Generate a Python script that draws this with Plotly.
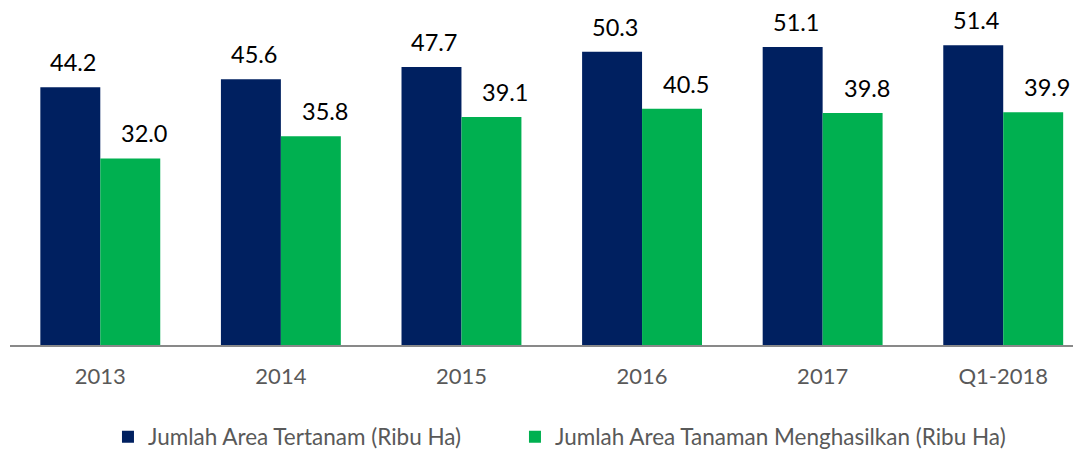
import plotly.graph_objects as go

categories = ["2013", "2014", "2015", "2016", "2017", "Q1-2018"]
planted = [44.2, 45.6, 47.7, 50.3, 51.1, 51.4]
producing = [32.0, 35.8, 39.1, 40.5, 39.8, 39.9]
series_names = ["Jumlah Area Tertanam (Ribu Ha)", "Jumlah Area Tanaman Menghasilkan (Ribu Ha)"]

NAVY = "#002060"
GREEN = "#00B050"
FONT = "Lato"

bargap = 0.336
bar_w = (1 - bargap) / 2

fig = go.Figure()
fig.add_trace(go.Bar(x=categories, y=planted, name=series_names[0], marker_color=NAVY,
                     marker_line_width=0, legend="legend"))
fig.add_trace(go.Bar(x=categories, y=producing, name=series_names[1], marker_color=GREEN,
                     marker_line_width=0, legend="legend2"))

annotations = []
for i, (a, b) in enumerate(zip(planted, producing)):
    annotations.append(dict(x=i - bar_w / 2, y=a, xref="x", yref="y", text=f"{a:.1f}",
                            showarrow=False, yanchor="middle", yshift=25, xshift=3,
                            font=dict(family=FONT, size=23.5, color="#000000")))
    annotations.append(dict(x=i + bar_w / 2, y=b, xref="x", yref="y", text=f"{b:.1f}",
                            showarrow=False, yanchor="middle", yshift=25, xshift=14,
                            font=dict(family=FONT, size=23.5, color="#000000")))

legend_style = dict(orientation="h", y=-0.273, yanchor="middle", xanchor="left",
                    font=dict(family=FONT, size=22.5, color="#595959"), itemwidth=30,
                    bgcolor="rgba(0,0,0,0)")

fig.update_layout(
    width=1081, height=450,
    margin=dict(l=2, r=0, t=0, b=113, autoexpand=False),
    paper_bgcolor="white", plot_bgcolor="white",
    barmode="group", bargap=bargap, bargroupgap=0,
    font=dict(family=FONT, color="#595959"),
    showlegend=True,
    legend=dict(x=0.0908, **legend_style),
    legend2=dict(x=0.468, **legend_style),
    annotations=annotations,
)
fig.update_xaxes(type="category", range=[-0.5, 5.475], showline=True, linecolor="#898989",
                 linewidth=2, ticks="", showgrid=False, zeroline=False, automargin=False,
                 tickfont=dict(family=FONT, size=22, color="#595959"), ticklabelstandoff=11)
fig.update_yaxes(range=[0, 57.8], visible=False, showgrid=False, zeroline=False,
                 automargin=False)

fig.write_html("out.html")
